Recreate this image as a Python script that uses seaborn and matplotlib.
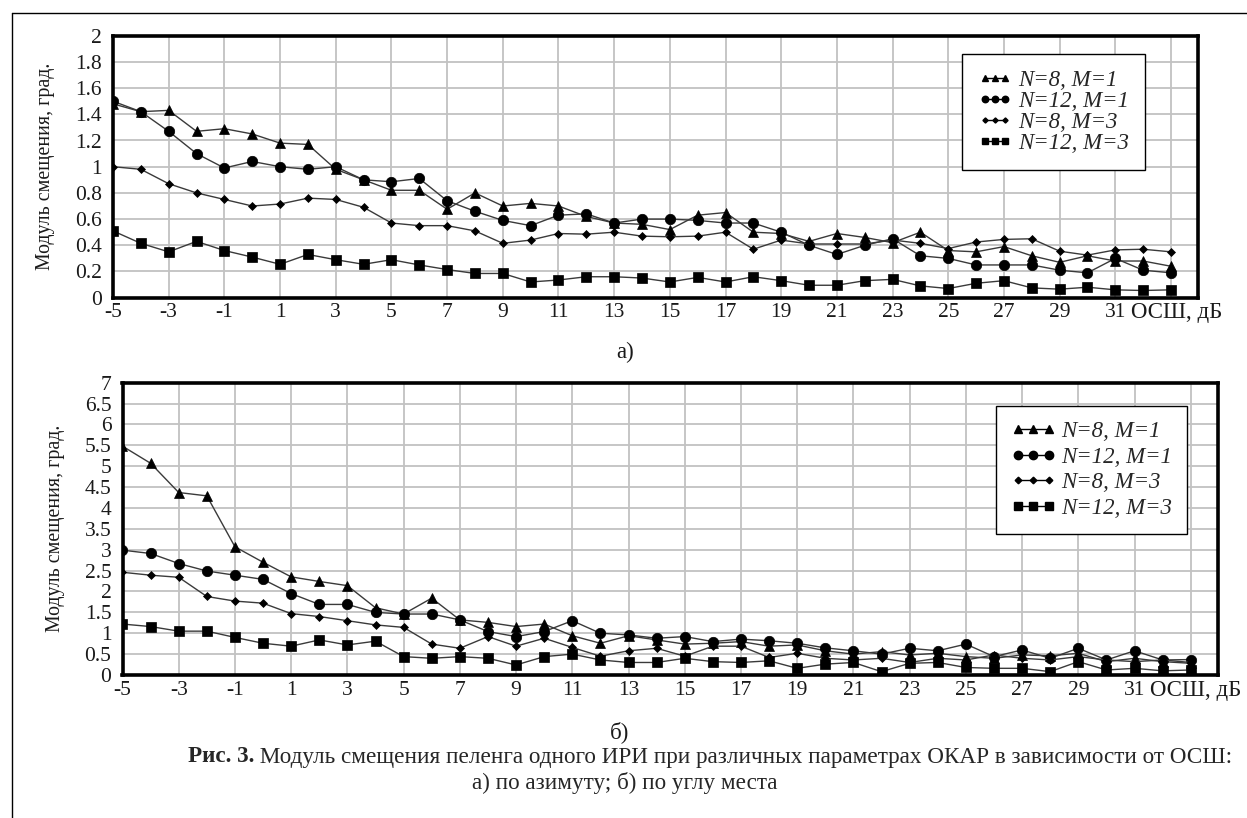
import matplotlib
matplotlib.use("Agg")
import matplotlib.pyplot as plt
import seaborn as sns
from matplotlib.lines import Line2D
from matplotlib.transforms import blended_transform_factory

# ---------------- data ----------------
snr = list(range(-5, 34))
series_labels = ["N=8, M=1", "N=12, M=1", "N=8, M=3", "N=12, M=3"]
x_tick_values = list(range(-5, 34, 2))
x_tick_labels = [str(v) for v in range(-5, 32, 2)] + [""]
x_axis_title = "ОСШ, дБ"

# a) azimuth
az_n8m1 = [1.48, 1.42, 1.43, 1.27, 1.29, 1.25, 1.18, 1.17, 0.98, 0.90,
           0.82, 0.82, 0.675, 0.80, 0.70, 0.72, 0.70, 0.62, 0.57, 0.56,
           0.52, 0.63, 0.65, 0.50, 0.49, 0.43, 0.49, 0.46, 0.42, 0.50,
           0.36, 0.35, 0.39, 0.32, 0.27, 0.32, 0.28, 0.28, 0.24]
az_n12m1 = [1.50, 1.42, 1.27, 1.10, 0.99, 1.04, 1.00, 0.98, 1.00, 0.90,
            0.885, 0.91, 0.74, 0.66, 0.59, 0.55, 0.63, 0.64, 0.57, 0.60,
            0.60, 0.59, 0.57, 0.57, 0.50, 0.40, 0.33, 0.40, 0.45, 0.32,
            0.30, 0.25, 0.25, 0.25, 0.21, 0.19, 0.30, 0.21, 0.19]
az_n8m3 = [1.00, 0.98, 0.87, 0.80, 0.75, 0.70, 0.715, 0.76, 0.75, 0.69,
           0.57, 0.55, 0.55, 0.51, 0.415, 0.44, 0.49, 0.485, 0.50, 0.47,
           0.465, 0.47, 0.50, 0.37, 0.44, 0.41, 0.41, 0.41, 0.44, 0.415,
           0.375, 0.425, 0.445, 0.45, 0.355, 0.325, 0.365, 0.37, 0.35]
az_n12m3 = [0.51, 0.415, 0.35, 0.43, 0.36, 0.31, 0.255, 0.33, 0.29, 0.255,
            0.29, 0.25, 0.215, 0.185, 0.185, 0.12, 0.135, 0.16, 0.16, 0.15,
            0.12, 0.155, 0.12, 0.16, 0.13, 0.095, 0.095, 0.13, 0.14, 0.09,
            0.07, 0.11, 0.13, 0.075, 0.065, 0.08, 0.06, 0.055, 0.06]

# б) elevation
el_n8m1 = [5.48, 5.07, 4.37, 4.29, 3.07, 2.70, 2.35, 2.24, 2.14, 1.61,
           1.46, 1.84, 1.32, 1.26, 1.16, 1.22, 0.94, 0.76, 0.94, 0.84,
           0.74, 0.76, 0.80, 0.69, 0.72, 0.58, 0.50, 0.56, 0.48, 0.52,
           0.44, 0.40, 0.48, 0.46, 0.52, 0.32, 0.40, 0.32, 0.28]
el_n12m1 = [2.99, 2.91, 2.67, 2.49, 2.39, 2.29, 1.95, 1.69, 1.69, 1.50,
            1.46, 1.46, 1.32, 1.04, 0.92, 1.04, 1.30, 1.00, 0.96, 0.88,
            0.92, 0.80, 0.86, 0.82, 0.76, 0.65, 0.58, 0.50, 0.64, 0.58,
            0.74, 0.44, 0.60, 0.40, 0.64, 0.36, 0.58, 0.36, 0.37]
el_n8m3 = [2.46, 2.39, 2.34, 1.88, 1.77, 1.72, 1.47, 1.40, 1.30, 1.20,
           1.14, 0.74, 0.64, 0.92, 0.69, 0.88, 0.66, 0.45, 0.58, 0.64,
           0.45, 0.69, 0.69, 0.42, 0.52, 0.40, 0.36, 0.40, 0.30, 0.40,
           0.36, 0.48, 0.40, 0.36, 0.44, 0.36, 0.32, 0.36, 0.30]
el_n12m3 = [1.22, 1.16, 1.05, 1.05, 0.90, 0.76, 0.69, 0.84, 0.72, 0.81,
            0.44, 0.40, 0.44, 0.40, 0.24, 0.44, 0.50, 0.36, 0.30, 0.30,
            0.40, 0.32, 0.30, 0.34, 0.16, 0.26, 0.30, 0.08, 0.28, 0.30,
            0.18, 0.16, 0.16, 0.08, 0.32, 0.12, 0.16, 0.10, 0.12]

az_ticks = [i * 0.2 for i in range(11)]
el_ticks = [i * 0.5 for i in range(15)]
y_label = "Модуль смещения, град."

# ---------------- style ----------------
sns.set_theme(style="white")
plt.rcParams["font.family"] = ["Liberation Serif", "DejaVu Serif"]

markers = ["^", "o", "D", "s"]
msizes = [6.5, 7.5, 4.2, 7.0]
TXT = "#1a1a1a"

fig = plt.figure(figsize=(12.47, 8.18), dpi=100)
ax_top = fig.add_axes([113 / 1247, 1 - 297.7 / 818, 1085 / 1247, 262 / 818])
ax_bot = fig.add_axes([122.5 / 1247, 1 - 675 / 818, 1095.5 / 1247, 292.3 / 818])


def draw(ax, datasets, yticks, ymax, leg_anchor, leg_spacing, leg_handlelen,
         leg_pad, leg_ms):
    for vals, lab, mk, ms in zip(datasets, series_labels, markers, msizes):
        sns.lineplot(x=snr, y=vals, ax=ax, color="#3a3a3a", linewidth=1.0,
                     marker=mk, markersize=ms, markerfacecolor="black",
                     markeredgecolor="black", markeredgewidth=0.5,
                     label=lab, legend=False)
    ax.set_xlim(-5, 33.97)
    ax.set_ylim(0, ymax)
    ax.set_xticks(x_tick_values)
    ax.set_xticklabels(x_tick_labels)
    ax.set_yticks(yticks)
    ax.set_yticklabels([f"{v:g}" for v in yticks])
    ax.grid(True, color="#c2c2c2", linewidth=1.3)
    ax.set_axisbelow(True)
    for s in ax.spines.values():
        s.set_visible(True)
        s.set_color("black")
        s.set_linewidth(2.6)
    ax.tick_params(axis="both", length=0, labelsize=15.5, colors=TXT)
    ax.tick_params(axis="y", pad=8)
    ax.tick_params(axis="x", pad=4)
    ax.set_xlabel("")
    ax.set_ylabel(y_label, fontsize=14.3, labelpad=14, color=TXT)
    tr = blended_transform_factory(ax.transData, ax.transAxes)
    ax.text(31.55, -0.018, x_axis_title, transform=tr, ha="left", va="top",
            fontsize=16.5, color=TXT)
    handles = [Line2D([0], [0], color="black", linewidth=1.0, marker=mk,
                      markersize=ms * leg_ms, markerfacecolor="black",
                      markeredgecolor="black") for mk, ms in zip(markers, msizes)]
    leg = ax.legend(handles, series_labels, loc="upper right",
                    bbox_to_anchor=leg_anchor, numpoints=3, borderaxespad=0,
                    prop={"family": "Liberation Serif", "style": "italic", "size": 16.5},
                    handlelength=leg_handlelen, handletextpad=0.25,
                    labelspacing=leg_spacing, borderpad=leg_pad,
                    fancybox=False, framealpha=1, edgecolor="black")
    leg.get_frame().set_linewidth(1.0)


draw(ax_top, [az_n8m1, az_n12m1, az_n8m3, az_n12m3], az_ticks, 2.0,
     (0.951, 0.93), 0.0, 1.5, 0.7, 0.62)
draw(ax_bot, [el_n8m1, el_n12m1, el_n8m3, el_n12m3], el_ticks, 7.0,
     (0.972, 0.92), 0.2, 1.95, 0.65, 0.8)

# sub-captions
fig.text(625 / 1247, 1 - 352 / 818, "а)", ha="center", va="center", fontsize=16.5, color=TXT)
fig.text(620 / 1247, 1 - 732 / 818, "б)", ha="center", va="center", fontsize=16.5, color=TXT)

# main caption: bold "Рис. 3." + regular text, centred
fig.canvas.draw()
renderer = fig.canvas.get_renderer()
cap_y = 1 - 757 / 818
t1 = fig.text(0, cap_y, "Рис. 3.", fontsize=16.7, fontweight="bold", ha="left", va="center")
t2 = fig.text(0, cap_y, " Модуль смещения пеленга одного ИРИ при различных параметрах ОКАР в зависимости от ОСШ:",
              fontsize=16.7, ha="left", va="center")
w1 = t1.get_window_extent(renderer).width
w2 = t2.get_window_extent(renderer).width
total = w1 + w2
x0 = (710 - total / 2) / 1247
t1.set_x(x0)
t2.set_x(x0 + w1 / 1247)
fig.text(625 / 1247, 1 - 783 / 818, "а) по азимуту; б) по углу места", fontsize=16.7,
         ha="center", va="center")

# outer frame lines
fig.add_artist(Line2D([12 / 1247, 12 / 1247], [0, 1 - 13 / 818], color="black", linewidth=1.0))
fig.add_artist(Line2D([12 / 1247, 1], [1 - 13 / 818, 1 - 13 / 818], color="black", linewidth=1.0))

fig.savefig("out.png", dpi=100)
